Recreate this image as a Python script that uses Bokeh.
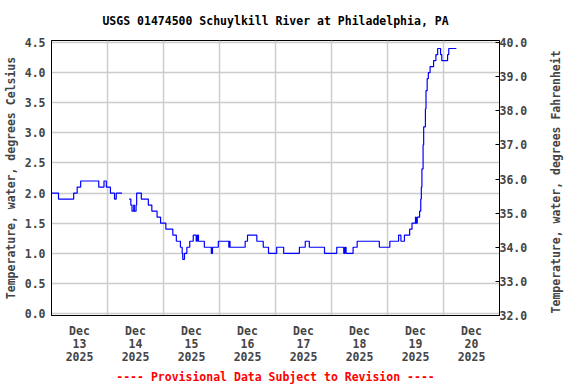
import math
from bokeh.plotting import figure
from bokeh.models import Range1d, LinearAxis, FixedTicker, Title
from bokeh.embed import file_html
from bokeh.resources import INLINE

# ---------------- data (hours after Dec 13 2025 00:00, degrees Celsius) -------------
seg1_hours = [0, 3, 9.5, 11, 12.5, 20.25, 22.5, 23.5, 25.25, 27, 27.75, 30.25]
seg1_temp_c = [2.0, 1.9, 2.0, 2.1, 2.2, 2.1, 2.2, 2.1, 2.0, 1.9, 2.0, 2.0]

seg2_hours = [33.25, 34, 34.5, 35.25, 35.5, 36.25, 36.5, 38.5, 41.5, 43, 45.25, 46.75,
              49, 52, 53.5, 55.25, 56, 56.25, 57, 58, 59.25, 60.75, 62, 62.5, 63,
              65.5, 68.5, 69, 71.5, 76, 76.25, 76.5, 83, 84, 88, 90.75, 93, 96.5,
              99.5, 106.25, 108.75, 110.5, 117, 122.25, 125.25, 125.75, 126.25,
              129.25, 131, 140.5, 145, 148.75, 149.75, 151.25, 153.5, 154.5, 156,
              156.25, 156.75, 157.75, 158.25, 158.5, 158.75, 159.25, 159.5, 160.25,
              160.5, 161, 161.5, 162.25, 163.75, 164.75, 165.5, 166.75, 167.25,
              169.75, 170.25, 173.5]
seg2_temp_c = [1.9, 1.8, 1.7, 1.8, 1.7, 1.8, 2.0, 1.9, 1.8, 1.7, 1.6, 1.5,
               1.4, 1.3, 1.2, 1.1, 1.0, 0.9, 1.0, 1.1, 1.2, 1.3, 1.2, 1.3, 1.2,
               1.1, 1.0, 1.1, 1.2, 1.1, 1.2, 1.1, 1.2, 1.3, 1.2, 1.1, 1.0, 1.1,
               1.0, 1.1, 1.2, 1.1, 1.0, 1.1, 1.0, 1.1, 1.0,
               1.1, 1.2, 1.1, 1.2, 1.3, 1.2, 1.3, 1.4, 1.5, 1.6,
               1.5, 1.6, 1.7, 1.9, 2.1, 2.4, 2.8, 3.1, 3.4,
               3.7, 3.9, 4.0, 4.1, 4.2, 4.3, 4.4, 4.3, 4.2,
               4.3, 4.4, 4.4]

day_tick_hours = [12, 36, 60, 84, 108, 132, 156, 180]
day_tick_labels = ["Dec\n13\n2025", "Dec\n14\n2025", "Dec\n15\n2025", "Dec\n16\n2025",
                   "Dec\n17\n2025", "Dec\n18\n2025", "Dec\n19\n2025", "Dec\n20\n2025"]
day_grid_hours = [24, 48, 72, 96, 120, 144, 168]
celsius_ticks = [0.0, 0.5, 1.0, 1.5, 2.0, 2.5, 3.0, 3.5, 4.0, 4.5]
fahrenheit_ticks = [32, 33, 34, 35, 36, 37, 38, 39, 40]

title_text = "USGS 01474500 Schuylkill River at Philadelphia, PA"
footer_text = "---- Provisional Data Subject to Revision ----"
left_label = "Temperature, water, degrees Celsius"
right_label = "Temperature, water, degrees Fahrenheit"

FONT = "DejaVu Sans Mono"
FS = "11.5px"

p = figure(width=576, height=384, output_backend="svg", toolbar_location=None,
           x_range=Range1d(0, 192), y_range=Range1d(-0.033, 4.533),
           min_border_left=51, min_border_right=77, min_border_top=40,
           min_border_bottom=69)
p.extra_y_ranges = {"F": Range1d(31.99, 40.07)}

p.background_fill_color = "white"
p.border_fill_color = "white"
p.outline_line_color = "black"
p.outline_line_width = 1

# title
p.title.text = title_text
p.title.align = "center"
p.title.vertical_align = "top"
p.title.text_font = FONT
p.title.text_font_size = FS
p.title.text_font_style = "bold"
p.title.text_color = "black"
p.title.standoff = 22

footer = Title(text=footer_text, align="center", text_font=FONT, text_font_size=FS,
               text_font_style="bold", text_color="#ff0000", standoff=0)
p.add_layout(footer, "below")

# x axis
xa = p.xaxis[0]
xa.ticker = FixedTicker(ticks=day_tick_hours)
xa.major_label_overrides = {h: lab for h, lab in zip(day_tick_hours, day_tick_labels)}
xa.major_tick_line_color = None
xa.major_tick_out = 0
xa.major_tick_in = 0
xa.minor_tick_line_color = None
xa.major_label_text_font = FONT
xa.major_label_text_font_size = FS
xa.major_label_text_font_style = "bold"
xa.major_label_text_line_height = 0.95
xa.major_label_standoff = 8
xa.axis_line_color = "black"

# left axis
ya = p.yaxis[0]
ya.ticker = FixedTicker(ticks=celsius_ticks)
ya.major_label_overrides = {t: f"{t:.1f}" for t in celsius_ticks}
ya.major_tick_line_color = None
ya.major_tick_out = 0
ya.major_tick_in = 0
ya.minor_tick_line_color = None
ya.major_label_text_font = FONT
ya.major_label_text_font_size = FS
ya.major_label_text_font_style = "bold"
ya.major_label_standoff = 6
ya.axis_label = left_label
ya.axis_label_text_font = FONT
ya.axis_label_text_font_size = FS
ya.axis_label_text_font_style = "bold"
ya.axis_label_standoff = 4
ya.axis_line_color = "black"

# right axis
ra = LinearAxis(y_range_name="F", ticker=FixedTicker(ticks=fahrenheit_ticks),
                major_label_overrides={t: f"{t:.1f}" for t in fahrenheit_ticks},
                major_tick_in=4, major_tick_out=0, minor_tick_line_color=None,
                major_label_text_font=FONT, major_label_text_font_size=FS,
                major_label_text_font_style="bold", major_label_standoff=0,
                axis_line_color="black")
p.add_layout(ra, "right")

# right-hand axis title, reading bottom-to-top (drawn as a single rotated tick label)
right_title_at = 32.05
ra_title = LinearAxis(y_range_name="F", ticker=FixedTicker(ticks=[right_title_at]),
                      major_label_overrides={right_title_at: right_label},
                      major_label_orientation=math.pi / 2,
                      major_tick_in=0, major_tick_out=0, major_tick_line_color=None,
                      minor_tick_line_color=None, axis_line_color=None,
                      major_label_text_font=FONT, major_label_text_font_size=FS,
                      major_label_text_font_style="bold", major_label_standoff=26)
p.add_layout(ra_title, "right")

# grids
p.xgrid.ticker = FixedTicker(ticks=day_grid_hours)
p.ygrid.ticker = FixedTicker(ticks=celsius_ticks)
for g in (p.xgrid[0], p.ygrid[0]):
    g.grid_line_color = "#cccccc"
    g.grid_line_width = 1.5

# data
p.step(seg1_hours, seg1_temp_c, mode="after", line_color="#0000ff", line_width=1.2)
p.step(seg2_hours, seg2_temp_c, mode="after", line_color="#0000ff", line_width=1.2)

open("out.html", "w").write(file_html(p, INLINE))
